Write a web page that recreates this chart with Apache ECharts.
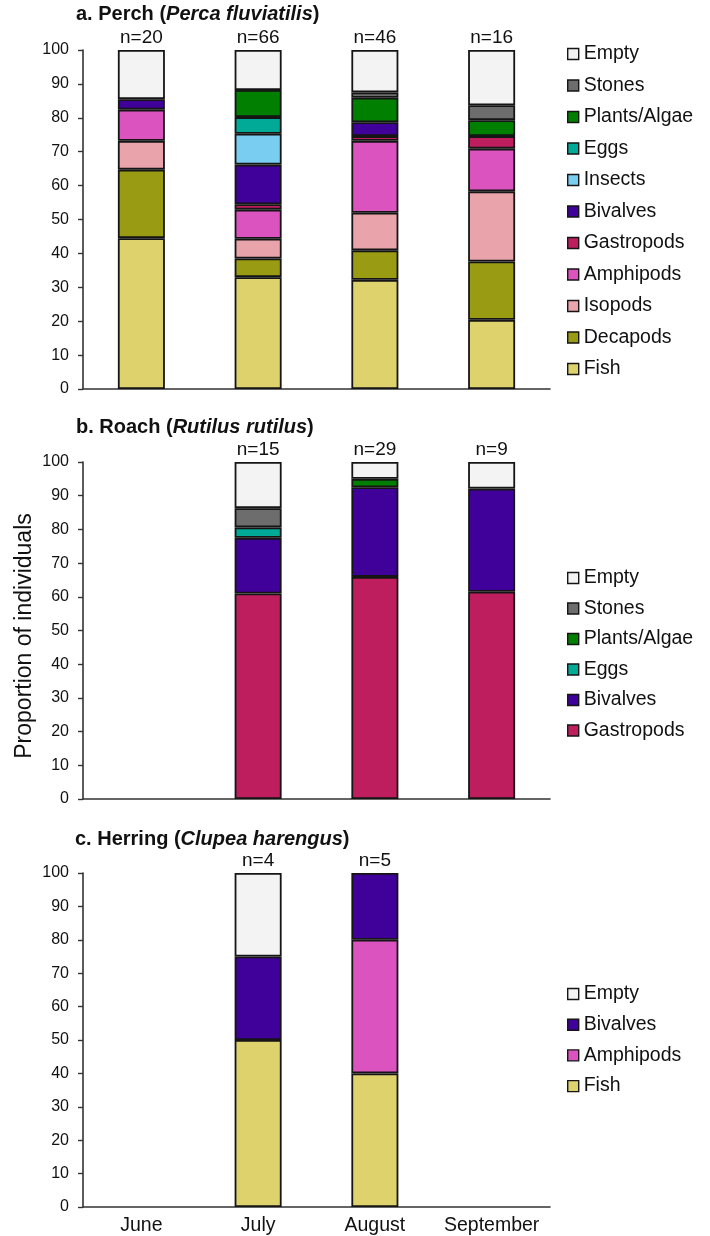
<!DOCTYPE html>
<html>
<head>
<meta charset="utf-8">
<script src="https://cdn.jsdelivr.net/npm/echarts@6/dist/echarts.min.js"></script>
<style>
html,body{margin:0;padding:0;background:#fff;}
#chart{width:710px;height:1236px;}
</style>
</head>
<body>
<div id="chart"></div>
<script>
// ---------- DATA ----------
const months = ['June', 'July', 'August', 'September'];

// a. Perch (values in % of individuals, stacked bottom -> top)
const perchFish       = [44.5, 33.0, 32.2, 20.4];
const perchDecapods   = [20.2, 5.5, 8.7, 17.2];
const perchIsopods    = [8.5, 5.8, 11.1, 20.7];
const perchAmphipods  = [9.2, 8.6, 21.2, 12.6];
const perchGastropods = [null, 1.6, 1.4, 3.7];
const perchBivalves   = [3.1, 11.7, 4.1, null];
const perchInsects    = [null, 9.1, null, null];
const perchEggs       = [null, 4.9, null, null];
const perchPlants     = [null, 8.0, 7.2, 4.7];
const perchStones     = [null, null, 1.6, 4.4];
const perchEmpty      = [14.5, 11.8, 12.5, 16.3];
const perchN          = ['n=20', 'n=66', 'n=46', 'n=16'];

// b. Roach
const roachGastropods = [null, 61.0, 65.9, 61.5];
const roachBivalves   = [null, 16.5, 26.6, 30.6];
const roachEggs       = [null, 3.1, null, null];
const roachPlants     = [null, null, 2.5, null];
const roachStones     = [null, 5.7, null, null];
const roachEmpty      = [null, 13.7, 5.0, 7.9];
const roachN          = [null, 'n=15', 'n=29', 'n=9'];

// c. Herring
const herringFish      = [null, 50, 40, null];
const herringAmphipods = [null, null, 40, null];
const herringBivalves  = [null, 25, 20, null];
const herringEmpty     = [null, 25, null, null];
const herringN         = [null, 'n=4', 'n=5', null];

const yTitle = 'Proportion of individuals';

// ---------- STYLE ----------
const colors = {
  'Empty': '#f3f3f3',
  'Stones': '#6d6d6d',
  'Plants/Algae': '#007f00',
  'Eggs': '#00aa96',
  'Insects': '#79cdf0',
  'Bivalves': '#40009a',
  'Gastropods': '#be1e5e',
  'Amphipods': '#da53be',
  'Isopods': '#e9a3ab',
  'Decapods': '#999b13',
  'Fish': '#ddd26c'
};
const FONT = '"Liberation Sans", Arial, sans-serif';
const TXT = '#111111';

const grids = [
  {left: 83, width: 467, top: 50, height: 339},
  {left: 83, width: 467, top: 462, height: 337},
  {left: 83, width: 467, top: 873, height: 334}
];

const panels = [
  {
    stack: 'perch',
    entries: [
      ['Fish', perchFish], ['Decapods', perchDecapods], ['Isopods', perchIsopods],
      ['Amphipods', perchAmphipods], ['Gastropods', perchGastropods], ['Bivalves', perchBivalves],
      ['Insects', perchInsects], ['Eggs', perchEggs], ['Plants/Algae', perchPlants],
      ['Stones', perchStones], ['Empty', perchEmpty]
    ],
    n: perchN,
    legendTop: 44, legendGap: 11.5
  },
  {
    stack: 'roach',
    entries: [
      ['Gastropods', roachGastropods], ['Bivalves', roachBivalves], ['Eggs', roachEggs],
      ['Plants/Algae', roachPlants], ['Stones', roachStones], ['Empty', roachEmpty]
    ],
    n: roachN,
    legendTop: 568, legendGap: 10.5
  },
  {
    stack: 'herring',
    entries: [
      ['Fish', herringFish], ['Amphipods', herringAmphipods], ['Bivalves', herringBivalves],
      ['Empty', herringEmpty]
    ],
    n: herringN,
    legendTop: 984, legendGap: 10.7
  }
];

const xAxes = [], yAxes = [], series = [], legends = [];
panels.forEach((p, gi) => {
  xAxes.push({
    type: 'category', gridIndex: gi, data: months,
    axisLine: {lineStyle: {color: '#333333', width: 1.6}},
    axisTick: {show: false},
    axisLabel: {show: gi === 2, interval: 0, fontSize: 19.5, color: TXT, fontFamily: FONT, margin: 9}
  });
  yAxes.push({
    type: 'value', gridIndex: gi, min: 0, max: 100, interval: 10,
    axisLine: {show: true, lineStyle: {color: '#333333', width: 1.6}},
    axisTick: {show: true, length: 5, lineStyle: {color: '#333333', width: 1.4}},
    axisLabel: {fontSize: 16, color: TXT, fontFamily: FONT, margin: 14},
    splitLine: {show: false}
  });
  p.entries.forEach(([name, arr]) => {
    series.push({
      type: 'bar', name: name, stack: p.stack,
      xAxisIndex: gi, yAxisIndex: gi,
      barWidth: 47,
      data: arr,
      itemStyle: {color: colors[name], borderColor: '#151515', borderWidth: 1.8}
    });
  });
  series.push({
    type: 'scatter', xAxisIndex: gi, yAxisIndex: gi, silent: true,
    symbolSize: 0, itemStyle: {color: '#111111'},
    data: p.n.map((t, i) => t ? {value: [i, 100], name: t} : null).filter(Boolean),
    label: {show: true, position: 'top', distance: 3, formatter: '{b}',
            fontSize: 19, color: TXT, opacity: 1, fontFamily: FONT}
  });
  const legendNames = p.entries.map(e => e[0]).reverse();
  legends.push({
    orient: 'vertical', left: 567, top: p.legendTop, padding: 0,
    data: legendNames, icon: 'rect', itemWidth: 11, itemHeight: 11,
    itemGap: p.legendGap, itemStyle: {borderColor: '#151515', borderWidth: 1.4},
    textStyle: {fontSize: 19.5, color: TXT, fontFamily: FONT, lineHeight: 20},
    selectedMode: false
  });
});

const titleRich = {
  b: {fontSize: 20, fontWeight: 'bold', color: TXT, fontFamily: FONT},
  bi: {fontSize: 20, fontWeight: 'bold', fontStyle: 'italic', color: TXT, fontFamily: FONT}
};
const titles = [
  {text: '{b|a. Perch (}{bi|Perca fluviatilis}{b|)}', left: 76, top: 4},
  {text: '{b|b. Roach (}{bi|Rutilus rutilus}{b|)}', left: 76, top: 417},
  {text: '{b|c. Herring (}{bi|Clupea harengus}{b|)}', left: 75, top: 829}
].map(t => Object.assign(t, {padding: 0, textStyle: {rich: titleRich}}));

const chart = echarts.init(document.getElementById('chart'), null, {renderer: 'canvas'});
chart.setOption({
  animation: false,
  backgroundColor: '#ffffff',
  title: titles,
  legend: legends,
  grid: grids,
  xAxis: xAxes,
  yAxis: yAxes,
  series: series,
  graphic: [{
    type: 'text', x: 25, y: 636, rotation: Math.PI / 2, silent: true,
    style: {text: yTitle, fontSize: 23, fontFamily: FONT, fill: TXT,
            align: 'center', verticalAlign: 'middle'}
  }]
});
</script>
</body>
</html>
